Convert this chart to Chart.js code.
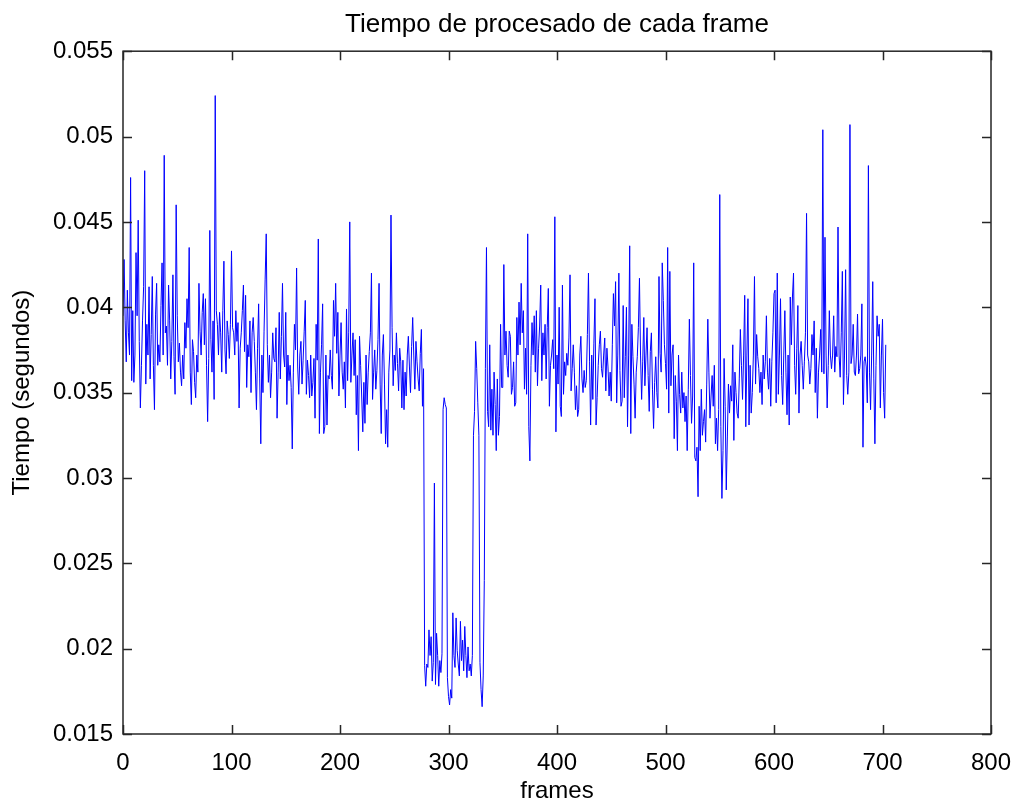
<!DOCTYPE html>
<html>
<head>
<meta charset="utf-8">
<title>Tiempo de procesado de cada frame</title>
<script src="https://cdn.jsdelivr.net/npm/chart.js@4.4.1/dist/chart.umd.min.js"></script>
<style>
  html, body { margin: 0; padding: 0; background: #ffffff; }
  #grafica { display: block; }
</style>
</head>
<body>
<canvas id="grafica" width="1017" height="803"></canvas>
<script>
// tiempo de cada frame, en decimas de milisegundo (0.1 ms), frame 0 en adelante
const tiempos = [
  395, 428, 392, 368, 410, 385, 372, 476, 357, 398,
  356, 372, 432, 395, 451, 380, 341, 366, 392, 412,
  480, 355, 390, 372, 412, 358, 384, 418, 366, 340,
  396, 414, 366, 378, 368, 401, 426, 372, 489, 385,
  389, 366, 413, 392, 358, 380, 419, 371, 349, 460,
  395, 368, 379, 362, 354, 372, 358, 391, 376, 405,
  388, 435, 362, 343, 381, 374, 356, 347, 372, 362,
  414, 386, 372, 397, 408, 378, 405, 366, 333, 370,
  445, 381, 362, 392, 346, 524, 398, 390, 372, 397,
  385, 362, 398, 427, 375, 361, 392, 384, 370, 390,
  433, 388, 385, 372, 398, 380, 391, 341, 376, 385,
  398, 413, 374, 407, 353, 378, 371, 392, 350, 385,
  394, 380, 362, 340, 376, 402, 358, 320, 372, 350,
  386, 416, 443, 378, 356, 372, 347, 362, 385, 370,
  368, 388, 335, 362, 397, 358, 383, 414, 372, 365,
  397, 343, 372, 357, 366, 353, 317, 362, 390, 375,
  423, 365, 349, 372, 380, 355, 369, 386, 404, 349,
  369, 360, 347, 372, 348, 356, 370, 335, 390, 369,
  440, 326, 362, 378, 402, 326, 330, 372, 331, 360,
  358, 375, 360, 352, 404, 383, 414, 373, 397, 348,
  372, 391, 362, 352, 368, 341, 399, 357, 385, 450,
  356, 372, 385, 360, 381, 337, 360, 316, 383, 366,
  348, 327, 356, 332, 372, 343, 362, 374, 385, 420,
  346, 362, 375, 352, 363, 381, 414, 355, 326, 372,
  384, 355, 320, 340, 318, 362, 375, 454, 388, 354,
  372, 363, 385, 367, 351, 376, 368, 341, 369, 340,
  362, 348, 372, 383, 365, 350, 377, 394, 372, 352,
  380, 368, 358, 351, 373, 387, 342, 364, 190, 178,
  191, 189, 211, 196, 207, 181, 192, 297, 179, 209,
  196, 178, 193, 186, 197, 340, 347, 343, 341, 183,
  172, 167, 176, 171, 221, 196, 189, 218, 199, 191,
  184, 216, 193, 205, 187, 213, 196, 183, 201, 187,
  191, 184, 196, 325, 339, 380, 364, 344, 325, 192,
  176, 166, 184, 240, 364, 435, 339, 330, 378, 328,
  352, 325, 362, 343, 316, 358, 325, 336, 390, 353,
  353, 425, 372, 386, 366, 359, 386, 383, 349, 353,
  368, 342, 344, 394, 372, 403, 378, 414, 385, 398,
  352, 376, 349, 443, 330, 310, 366, 391, 372, 395,
  362, 398, 354, 376, 389, 413, 357, 385, 372, 390,
  358, 388, 411, 342, 366, 372, 381, 364, 453, 327,
  372, 355, 400, 342, 336, 413, 349, 368, 360, 373,
  366, 382, 419, 351, 364, 378, 362, 340, 354, 336,
  340, 372, 383, 358, 350, 363, 353, 357, 384, 420,
  368, 331, 372, 346, 379, 405, 331, 347, 366, 378,
  386, 364, 359, 372, 382, 351, 376, 365, 348, 362,
  345, 378, 408, 389, 415, 344, 372, 420, 363, 342,
  345, 401, 347, 371, 400, 330, 372, 436, 326, 390,
  371, 355, 335, 362, 371, 388, 417, 372, 346, 368,
  394, 354, 372, 388, 360, 339, 374, 385, 352, 329,
  356, 371, 350, 341, 418, 373, 362, 426, 404, 378,
  367, 352, 435, 338, 421, 354, 372, 378, 323, 360,
  345, 316, 372, 349, 338, 362, 341, 350, 333, 348,
  316, 352, 393, 360, 332, 348, 426, 312, 310, 318,
  289, 342, 316, 352, 325, 333, 340, 321, 355, 393,
  362, 335, 348, 360, 342, 366, 320, 335, 316, 340,
  466, 330, 288, 316, 370, 342, 293, 324, 355, 338,
  354, 345, 378, 322, 362, 350, 338, 335, 358, 387,
  366, 346, 372, 407, 330, 372, 405, 331, 366, 338,
  350, 372, 418, 355, 384, 371, 364, 350, 362, 343,
  372, 358, 368, 395, 362, 352, 370, 342, 368, 385,
  408, 410, 344, 420, 349, 372, 405, 360, 343, 372,
  398, 362, 337, 372, 331, 406, 378, 406, 420, 366,
  349, 376, 401, 338, 372, 380, 366, 352, 368, 385,
  455, 372, 368, 355, 364, 384, 372, 392, 350, 376,
  335, 362, 372, 387, 362, 504, 361, 441, 372, 341,
  366, 398, 372, 364, 372, 395, 362, 377, 371, 447,
  372, 359, 385, 421, 343, 372, 422, 360, 349, 362,
  507, 367, 372, 390, 362, 360, 372, 396, 361, 364,
  372, 402, 318, 368, 371, 365, 344, 483, 362, 340,
  372, 415, 358, 320, 366, 395, 383, 390, 341, 372,
  393, 350, 335, 378
];

const xTicks = [0, 100, 200, 300, 400, 500, 600, 700, 800];
const yTicks = [0.015, 0.02, 0.025, 0.03, 0.035, 0.04, 0.045, 0.05, 0.055];

const fuente = "'Liberation Sans', Arial, Helvetica, sans-serif";

// pares (frame, segundos)
const puntos = tiempos.map((t, frame) => ({ x: frame, y: t / 10000 }));

// caja cerrada con marcas hacia dentro, como en MATLAB
const cajaEjes = {
  id: 'cajaEjes',
  afterDraw(chart) {
    const { ctx, chartArea: a, scales } = chart;
    const largo = 9;
    ctx.save();
    ctx.strokeStyle = '#262626';
    ctx.lineWidth = 1.5;
    ctx.strokeRect(a.left, a.top, a.right - a.left, a.bottom - a.top);
    ctx.beginPath();
    scales.x.ticks.forEach(t => {
      const px = Math.round(scales.x.getPixelForValue(t.value)) + 0.5;
      ctx.moveTo(px, a.bottom);
      ctx.lineTo(px, a.bottom - largo);
      ctx.moveTo(px, a.top);
      ctx.lineTo(px, a.top + largo);
    });
    scales.y.ticks.forEach(t => {
      const py = Math.round(scales.y.getPixelForValue(t.value)) + 0.5;
      ctx.moveTo(a.left, py);
      ctx.lineTo(a.left + largo, py);
      ctx.moveTo(a.right, py);
      ctx.lineTo(a.right - largo, py);
    });
    ctx.stroke();
    ctx.restore();
  }
};

new Chart(document.getElementById('grafica'), {
  type: 'line',
  data: {
    datasets: [{
      data: puntos,
      borderColor: '#0000ff',
      borderWidth: 1,
      pointRadius: 0,
      tension: 0,
      fill: false
    }]
  },
  options: {
    responsive: false,
    animation: false,
    devicePixelRatio: 1,
    layout: { padding: { left: 0, right: 26, top: 0, bottom: 0 } },
    plugins: {
      legend: { display: false },
      tooltip: { enabled: false },
      title: {
        display: true,
        text: 'Tiempo de procesado de cada frame',
        color: '#000000',
        fullSize: false,
        font: { family: fuente, size: 26, weight: 'normal' },
        padding: { top: 9, bottom: 11 }
      }
    },
    scales: {
      x: {
        type: 'linear',
        min: 0,
        max: 800,
        afterBuildTicks: s => { s.ticks = xTicks.map(v => ({ value: v })); },
        afterFit: s => { s.height = 69; s.paddingLeft = 0; s.paddingRight = 0; },
        grid: { display: false, drawTicks: false },
        border: { display: false },
        ticks: {
          color: '#000000',
          font: { family: fuente, size: 24 },
          padding: 15,
          maxRotation: 0,
          autoSkip: false
        },
        title: {
          display: true,
          text: 'frames',
          color: '#000000',
          font: { family: fuente, size: 24, lineHeight: 1 },
          padding: { top: 0, bottom: 0 }
        }
      },
      y: {
        type: 'linear',
        min: 0.015,
        max: 0.055,
        afterBuildTicks: s => { s.ticks = yTicks.map(v => ({ value: v })); },
        afterFit: s => { s.width = 123; s.paddingTop = 0; s.paddingBottom = 0; },
        grid: { display: false, drawTicks: false },
        border: { display: false },
        ticks: {
          color: '#000000',
          font: { family: fuente, size: 24 },
          padding: 10,
          autoSkip: false,
          callback: v => String(Number(v.toFixed(3)))
        },
        title: {
          display: true,
          text: 'Tiempo (segundos)',
          color: '#000000',
          font: { family: fuente, size: 24 },
          padding: { top: 8, bottom: 0 }
        }
      }
    }
  },
  plugins: [cajaEjes]
});
</script>
</body>
</html>
